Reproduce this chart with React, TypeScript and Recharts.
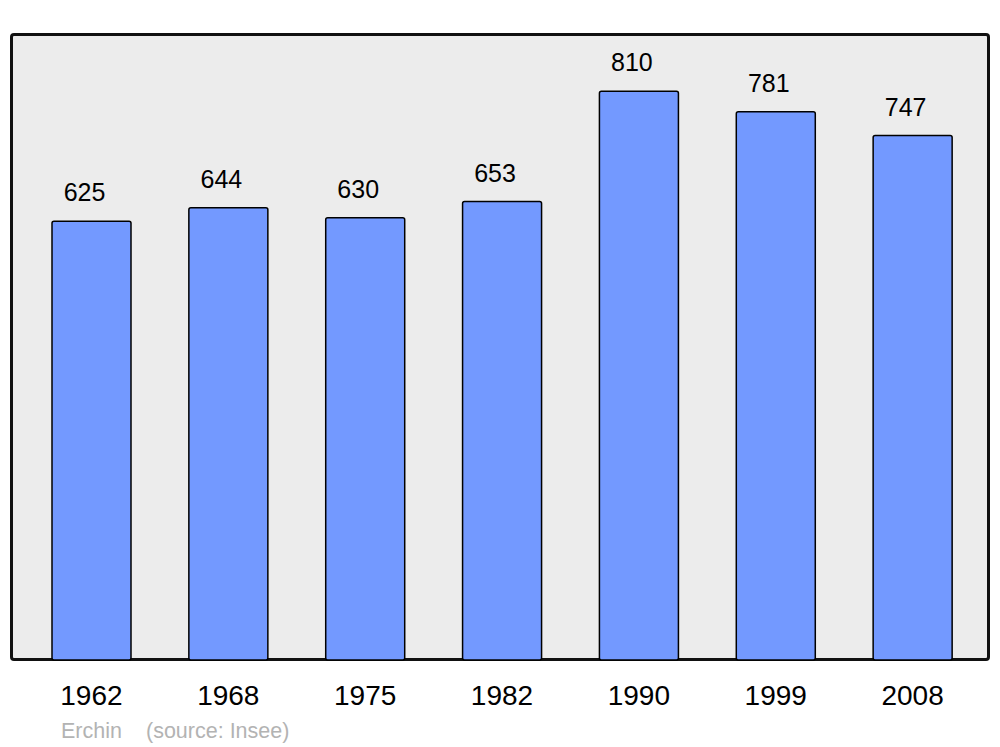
import React from 'react';
import { BarChart, Bar, XAxis, YAxis } from 'recharts';

const years = ['1962', '1968', '1975', '1982', '1990', '1999', '2008'];
const population = [625, 644, 630, 653, 810, 781, 747];

const data = years.map((year, i) => ({ year, population: population[i] }));

const font = '"Liberation Sans", Arial, sans-serif';

const renderValue = (props: any) => {
  const { x, y, width, value } = props;
  return (
    <text
      x={Number(x) + Number(width) / 2 - 7}
      y={Number(y) - 20}
      textAnchor="middle"
      fontSize={25}
      fontFamily={font}
      fill="#000"
    >
      {value}
    </text>
  );
};

export default function App() {
  return (
    <div style={{ position: 'absolute', left: 0, top: 0, width: 1000, height: 747, background: '#fff', fontFamily: font }}>
      {/* plot frame */}
      <div
        style={{
          position: 'absolute',
          left: 10,
          top: 33,
          width: 980,
          height: 628,
          boxSizing: 'border-box',
          border: '3px solid #111',
          borderRadius: 4,
          background: '#ececec',
        }}
      />
      <div style={{ position: 'absolute', left: 0, top: 0 }}>
        <BarChart width={1000} height={747} data={data} margin={{ top: 33, right: 19, left: 23, bottom: 0 }}>
          <XAxis
            dataKey="year"
            height={87}
            axisLine={false}
            tickLine={false}
            tickMargin={19}
            tick={{ fontSize: 28, fill: '#000', fontFamily: font }}
            interval={0}
          />
          <YAxis hide domain={[0, 893]} />
          <Bar
            dataKey="population"
            fill="#7399ff"
            stroke="#000"
            strokeWidth={1.5}
            barSize={79}
            radius={2}
            label={renderValue}
            isAnimationActive={false}
          />
        </BarChart>
      </div>
      <div style={{ position: 'absolute', left: 61, top: 721, fontSize: 21.5, lineHeight: '21.5px', color: '#b3b3b3' }}>Erchin</div>
      <div style={{ position: 'absolute', left: 146, top: 721, fontSize: 21.5, lineHeight: '21.5px', color: '#b3b3b3' }}>(source: Insee)</div>
    </div>
  );
}
